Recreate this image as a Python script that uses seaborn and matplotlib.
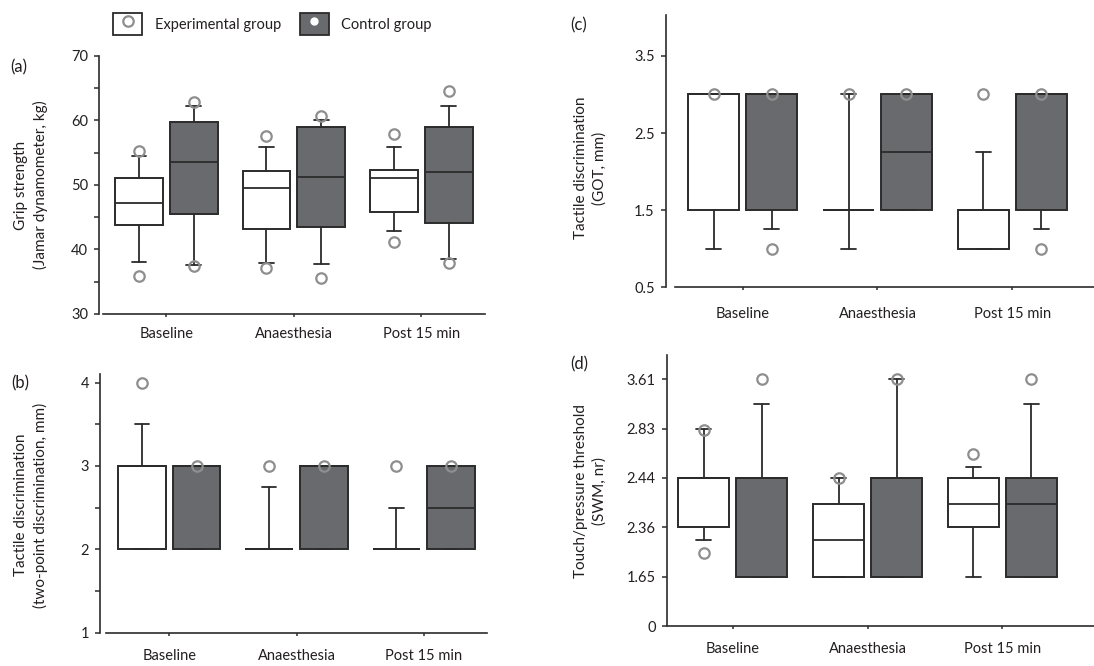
import matplotlib
matplotlib.use("Agg")
import matplotlib.pyplot as plt
from matplotlib.patches import Patch
from matplotlib.lines import Line2D
from matplotlib.ticker import MultipleLocator
import seaborn as sns
import numpy as np

phases = ["Baseline", "Anaesthesia", "Post 15 min"]
groups = ["Experimental group", "Control group"]

# (a) grip strength, kg
grip_exp_whislo = [38.0, 37.9, 42.8]
grip_exp_q1 = [43.8, 43.2, 45.8]
grip_exp_med = [47.2, 49.6, 51.1]
grip_exp_q3 = [51.1, 52.2, 52.3]
grip_exp_whishi = [54.5, 55.9, 55.9]
grip_exp_fliers = [[35.9, 55.2], [37.1, 57.6], [41.2, 57.9]]
grip_ctl_whislo = [37.6, 37.7, 38.5]
grip_ctl_q1 = [45.5, 43.5, 44.1]
grip_ctl_med = [53.6, 51.2, 52.0]
grip_ctl_q3 = [59.7, 59.0, 59.0]
grip_ctl_whishi = [62.2, 60.0, 62.2]
grip_ctl_fliers = [[37.5, 62.9], [35.6, 60.7], [37.9, 64.6]]

# (b) two-point discrimination, mm
tpd_exp_whislo = [2.0, 2.0, 2.0]
tpd_exp_q1 = [2.0, 2.0, 2.0]
tpd_exp_med = [3.0, 2.0, 2.0]
tpd_exp_q3 = [3.0, 2.0, 2.0]
tpd_exp_whishi = [3.5, 2.75, 2.5]
tpd_exp_fliers = [[4.0], [3.0], [3.0]]
tpd_ctl_whislo = [2.0, 2.0, 2.0]
tpd_ctl_q1 = [2.0, 2.0, 2.0]
tpd_ctl_med = [3.0, 3.0, 2.5]
tpd_ctl_q3 = [3.0, 3.0, 3.0]
tpd_ctl_whishi = [3.0, 3.0, 3.0]
tpd_ctl_fliers = [[3.0], [3.0], [3.0]]

# (c) grating orientation test, mm
got_exp_whislo = [1.0, 1.0, 1.0]
got_exp_q1 = [1.5, 1.5, 1.0]
got_exp_med = [3.0, 1.5, 1.5]
got_exp_q3 = [3.0, 1.5, 1.5]
got_exp_whishi = [3.0, 3.0, 2.25]
got_exp_fliers = [[3.0], [3.0], [3.0]]
got_ctl_whislo = [1.26, 1.5, 1.26]
got_ctl_q1 = [1.5, 1.5, 1.5]
got_ctl_med = [3.0, 2.25, 3.0]
got_ctl_q3 = [3.0, 3.0, 3.0]
got_ctl_whishi = [3.0, 3.0, 3.0]
got_ctl_fliers = [[1.0, 3.0], [3.0], [1.0, 3.0]]

# (d) SWM touch/pressure threshold, on the chart's evenly spaced level scale
swm_levels = ["0", "1.65", "2.36", "2.44", "2.83", "3.61"]
swm_exp_whislo = [1.74, 1.0, 1.0]
swm_exp_q1 = [2.0, 1.0, 2.0]
swm_exp_med = [3.0, 1.74, 2.47]
swm_exp_q3 = [3.0, 2.47, 3.0]
swm_exp_whishi = [4.0, 3.0, 3.23]
swm_exp_fliers = [[1.47, 3.97], [3.0], [3.49]]
swm_ctl_whislo = [1.0, 1.0, 1.0]
swm_ctl_q1 = [1.0, 1.0, 1.0]
swm_ctl_med = [3.0, 3.0, 2.47]
swm_ctl_q3 = [3.0, 3.0, 3.0]
swm_ctl_whishi = [4.5, 5.0, 4.5]
swm_ctl_fliers = [[5.0], [5.0], [5.0]]

INK = "#231f20"
EDGE = "#2b2b2b"
DARK = "#696a6d"
FLIER = "#8e8e8e"
W, H = 1094, 666

sns.set_theme(style="ticks")
plt.rcParams["font.family"] = ["Lato", "DejaVu Sans"]
plt.rcParams["text.color"] = INK
plt.rcParams["xtick.color"] = EDGE
plt.rcParams["ytick.color"] = EDGE
plt.rcParams["xtick.labelcolor"] = INK
plt.rcParams["ytick.labelcolor"] = INK


def make_stats(whislo, q1, med, q3, whishi, fliers):
    return [dict(whislo=a, q1=b, med=c, q3=d, whishi=e, fliers=f)
            for a, b, c, d, e, f in zip(whislo, q1, med, q3, whishi, fliers)]


def draw_boxes(ax, stats, offset, face):
    pos = np.arange(len(phases)) + offset
    ax.bxp(stats, positions=pos, widths=0.375, capwidths=0.115,
           patch_artist=True, manage_ticks=False,
           boxprops=dict(facecolor=face, edgecolor=EDGE, linewidth=1.4),
           medianprops=dict(color=EDGE, linewidth=1.3),
           whiskerprops=dict(color=EDGE, linewidth=1.3),
           capprops=dict(color=EDGE, linewidth=1.3),
           flierprops=dict(marker="o", markerfacecolor="none",
                           markeredgecolor=FLIER, markeredgewidth=1.6,
                           markersize=7.5, zorder=4))


def px_rect(x0, y0, x1, y1):
    return [x0 / W, 1 - y1 / H, (x1 - x0) / W, (y1 - y0) / H]


def style_axes(ax, xlim, ylim, spine_out, xpad):
    ax.set_xlim(*xlim)
    ax.set_ylim(*ylim)
    ax.set_xticks(range(len(phases)))
    ax.set_xticklabels(phases)
    sns.despine(ax=ax)
    ax.spines["left"].set_position(("outward", spine_out))
    for s in ("left", "bottom"):
        ax.spines[s].set_color(EDGE)
        ax.spines[s].set_linewidth(1.2)
    ax.tick_params(axis="y", which="both", length=3.5, width=1.1, pad=4.5,
                   labelsize=10.5, direction="out")
    ax.tick_params(axis="x", length=2.5, width=1.1, pad=xpad,
                   labelsize=10.5, direction="out")


fig = plt.figure(figsize=(W / 100, H / 100), dpi=100)

panels = [
    (px_rect(102.7, 56, 485, 314),
     make_stats(grip_exp_whislo, grip_exp_q1, grip_exp_med, grip_exp_q3, grip_exp_whishi, grip_exp_fliers),
     make_stats(grip_ctl_whislo, grip_ctl_q1, grip_ctl_med, grip_ctl_q3, grip_ctl_whishi, grip_ctl_fliers)),
    (px_rect(105.7, 374.3, 487.3, 632.7),
     make_stats(tpd_exp_whislo, tpd_exp_q1, tpd_exp_med, tpd_exp_q3, tpd_exp_whishi, tpd_exp_fliers),
     make_stats(tpd_ctl_whislo, tpd_ctl_q1, tpd_ctl_med, tpd_ctl_q3, tpd_ctl_whishi, tpd_ctl_fliers)),
    (px_rect(675, 15, 1094, 287.3),
     make_stats(got_exp_whislo, got_exp_q1, got_exp_med, got_exp_q3, got_exp_whishi, got_exp_fliers),
     make_stats(got_ctl_whislo, got_ctl_q1, got_ctl_med, got_ctl_q3, got_ctl_whishi, got_ctl_fliers)),
    (px_rect(668, 355, 1094, 626),
     make_stats(swm_exp_whislo, swm_exp_q1, swm_exp_med, swm_exp_q3, swm_exp_whishi, swm_exp_fliers),
     make_stats(swm_ctl_whislo, swm_ctl_q1, swm_ctl_med, swm_ctl_q3, swm_ctl_whishi, swm_ctl_fliers)),
]

axes = []
for rect, exp_stats, ctl_stats in panels:
    ax = fig.add_axes(rect)
    ax.set_facecolor("white")
    draw_boxes(ax, exp_stats, -0.215, "white")
    draw_boxes(ax, ctl_stats, 0.215, DARK)
    axes.append(ax)

ax_a, ax_b, ax_c, ax_d = axes

style_axes(ax_a, (-0.5, 2.5), (30, 70), 2.5, 7)
ax_a.yaxis.set_major_locator(MultipleLocator(10))
ax_a.yaxis.set_minor_locator(MultipleLocator(5))

style_axes(ax_b, (-0.5, 2.5), (1, 4.1), 4, 9)
ax_b.yaxis.set_major_locator(MultipleLocator(1))
ax_b.yaxis.set_minor_locator(MultipleLocator(0.5))

style_axes(ax_c, (-0.502, 2.606), (0.5, 4.03), 6.5, 12)
ax_c.set_yticks([0.5, 1.5, 2.5, 3.5])

style_axes(ax_d, (-0.48, 2.68), (0, 5.49), 1, 9)
ax_d.set_yticks(range(len(swm_levels)))
ax_d.set_yticklabels(swm_levels)

# panel letters and y labels
for txt, x, y in [("(a)", 19, 67), ("(b)", 20, 383), ("(c)", 579, 25), ("(d)", 579, 364)]:
    fig.text(x / W, 1 - y / H, txt, ha="center", va="center", fontsize=12)

ylabels = [
    ("Grip strength\n(Jamar dynamometer, kg)", 31, 185),
    ("Tactile discrimination\n(two-point discrimination, mm)", 31, 505),
    ("Tactile discrimination\n(GOT, mm)", 590, 168),
    ("Touch/pressure threshold\n(SWM, nr)", 590, 491),
]
for txt, x, y in ylabels:
    fig.text(x / W, 1 - y / H, txt, ha="center", va="center", rotation=90,
             fontsize=11, linespacing=1.4, multialignment="center")

handles = [
    (Patch(facecolor="white", edgecolor=EDGE, linewidth=1.3),
     Line2D([], [], ls="none", marker="o", markerfacecolor="none",
            markeredgecolor=FLIER, markeredgewidth=1.6, markersize=7.5)),
    (Patch(facecolor=DARK, edgecolor=EDGE, linewidth=1.3),
     Line2D([], [], ls="none", marker="o", markerfacecolor="white",
            markeredgecolor="white", markersize=5)),
]
fig.legend(handles, groups, loc="upper left", bbox_to_anchor=(113 / W, 1 - 12.7 / H),
           ncol=2, frameon=False, fontsize=10.5, handlelength=2, handleheight=2,
           handletextpad=0.85, columnspacing=1.3, borderpad=0, borderaxespad=0)

fig.savefig("out.png", dpi=100, facecolor="white")
